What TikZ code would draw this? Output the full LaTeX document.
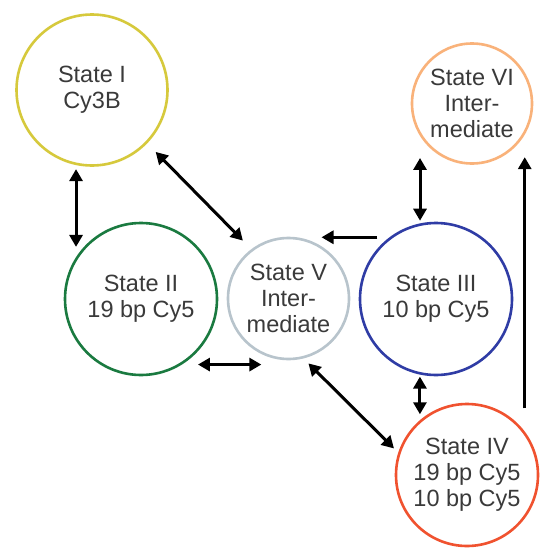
\documentclass[tikz,border=0pt]{standalone}
\usepackage{fontspec}
\setmainfont{Liberation Sans}
\usetikzlibrary{arrows.meta}
\definecolor{cI}{HTML}{D6C93C}
\definecolor{cII}{HTML}{1A7A40}
\definecolor{cV}{HTML}{B8C4CC}
\definecolor{cIII}{HTML}{2F3CA5}
\definecolor{cVI}{HTML}{F9B27A}
\definecolor{cIV}{HTML}{F0522F}
\definecolor{txt}{HTML}{3A3A3A}
\tikzset{
  state/.style={circle, draw=#1, line width=2.6pt, inner sep=0pt, align=center,
    text=txt, font=\fontsize{23.5}{26}\selectfont},
  tip/.tip={Triangle[length=12pt,width=13pt]},
  dbl/.style={line width=3pt, tip-tip},
  sgl/.style={line width=3pt, -tip}
}
\begin{document}
\begin{tikzpicture}[x=1pt,y=-1pt]
\useasboundingbox[fill=white] (0,0) rectangle (539,554);
\node[state=cI,  minimum size=151pt] (I)   at (92,90)      {State I\\Cy3B};
\node[state=cII, minimum size=152pt] (II)  at (141,299)    {State II\\19 bp Cy5};
\node[state=cV,  minimum size=121pt] (V)   at (288.5,298.5) {State V\\Inter-\\mediate};
\node[state=cIII,minimum size=152pt] (III) at (436,299)    {State III\\10 bp Cy5};
\node[state=cVI, minimum size=120pt] (VI)  at (472,103.5)  {State VI\\Inter-\\mediate};
\node[state=cIV, minimum size=142pt] (IV)  at (467,475)    {State IV\\19 bp Cy5\\10 bp Cy5};
% I -- II
\draw[dbl, shorten <=4pt, shorten >=10pt] (I.258) -- (I.258 |- II.147);
% I -- V
\draw[dbl, shorten <=12pt, shorten >=12pt] (I.316) -- (V.127);
% II -- V
\draw[dbl, shorten <=16pt, shorten >=6pt] (II.302) -- (II.302 -| V.250);
% III -> V
\draw[sgl, shorten <=12pt, shorten >=33pt] (III.127) -- (III.127 -| V.north);
% VI -- III
\draw[dbl, shorten <=22pt, shorten >=1pt] (VI.212) -- (VI.212 |- III.north);
% III -- IV
\draw[dbl, shorten <=2pt, shorten >=7pt] (III.258) -- (III.258 |- IV.132);
% IV -> VI
\draw[sgl, shorten <=23pt, shorten >=23pt] (IV.37) -- (IV.37 |- VI.330);
% V -- IV
\draw[dbl, shorten <=7pt, shorten >=6pt] (V.284) -- (IV.162);
\end{tikzpicture}
\end{document}
